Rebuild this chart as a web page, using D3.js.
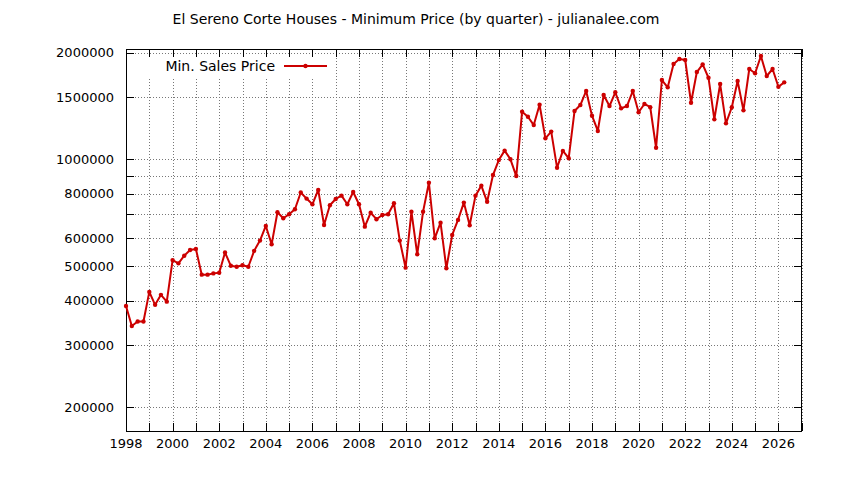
<!DOCTYPE html>
<html>
<head>
<meta charset="utf-8">
<script src="https://cdn.jsdelivr.net/npm/d3@7"></script>
<style>
  body { margin: 0; background: #fff; }
  svg text { font-family: "DejaVu Sans", Verdana, sans-serif; font-size: 13px; fill: #000; }
</style>
</head>
<body>
<div id="chart"></div>
<script>
// Minimum sale price per quarter, one row per year (Q1..Q4)
const years = [1998, 1999, 2000, 2001, 2002, 2003, 2004, 2005, 2006, 2007,
               2008, 2009, 2010, 2011, 2012, 2013, 2014, 2015, 2016, 2017,
               2018, 2019, 2020, 2021, 2022, 2023, 2024, 2025, 2026];
const prices = [
    [386000, 339000, 349000, 349000],
    [423000, 389000, 415000, 397000],
    [520000, 509000, 535000, 555000],
    [559000, 473000, 473000, 477000],
    [479000, 546000, 501000, 498000],
    [503000, 498000, 552000, 590000],
    [649000, 576000, 709000, 682000],
    [700000, 723000, 806000, 775000],
    [747000, 820000, 653000, 742000],
    [773000, 790000, 747000, 809000],
    [747000, 646000, 707000, 678000],
    [697000, 700000, 752000, 590000],
    [495000, 712000, 540000, 712000],
    [859000, 599000, 663000, 493000],
    [612000, 675000, 755000, 652000],
    [790000, 843000, 759000, 903000],
    [995000, 1058000, 1000000, 897000],
    [1362000, 1318000, 1249000, 1425000],
    [1146000, 1197000, 947000, 1056000],
    [1007000, 1368000, 1422000, 1558000],
    [1327000, 1202000, 1518000, 1413000],
    [1545000, 1392000, 1413000, 1558000],
    [1357000, 1432000, 1402000, 1078000],
    [1673000, 1596000, 1856000, 1917000],
    [1905000, 1444000, 1762000, 1852000],
    [1698000, 1296000, 1630000, 1263000],
    [1402000, 1662000, 1374000, 1797000],
    [1748000, 1955000, 1717000, 1797000],
    [1602000, 1648000]
];

const yTicks = [200000, 300000, 400000, 500000, 600000, 700000, 800000, 900000, 1000000, 1500000, 2000000];
const yLabels = ["200000", "300000", "400000", "500000", "600000", "", "800000", "", "1000000", "1500000", "2000000"];
const xTicks = d3.range(1998, 2028);
const xLabels = [1998, 2000, 2002, 2004, 2006, 2008, 2010, 2012, 2014, 2016, 2018, 2020, 2022, 2024, 2026];

const title = "El Sereno Corte Houses - Minimum Price (by quarter) - julianalee.com";
const seriesName = "Min. Sales Price";
const color = "#cc0000";

// flatten into points
const data = [];
years.forEach((yr, i) => {
    prices[i].forEach((v, q) => data.push({ t: yr + q / 4, value: v }));
});

const W = 844, H = 480;
const plotLeft = 126, plotRight = 801.7, plotTop = 49, plotBottom = 431;

const svg = d3.select("#chart").append("svg")
    .attr("width", W)
    .attr("height", H);

const x = d3.scaleLinear().domain([1998, 2027]).range([plotLeft, plotRight]);
const y = d3.scaleLog().domain([171500, 2046000]).range([plotBottom, plotTop]);

// grid
const grid = svg.append("g").attr("stroke", "#777").attr("stroke-width", 1)
    .attr("stroke-dasharray", "1,2").attr("shape-rendering", "crispEdges");

grid.selectAll(".gx")
    .data(xTicks.filter(d => d > 1998))
    .enter().append("line")
    .attr("x1", d => Math.round(x(d)) + 0.5).attr("x2", d => Math.round(x(d)) + 0.5)
    .attr("y1", plotTop).attr("y2", plotBottom);

grid.selectAll(".gy")
    .data(yTicks)
    .enter().append("line")
    .attr("x1", plotLeft).attr("x2", plotRight)
    .attr("y1", d => Math.round(y(d)) + 0.5).attr("y2", d => Math.round(y(d)) + 0.5);

// opaque legend box over the grid
svg.append("rect")
    .attr("x", 140).attr("y", 55)
    .attr("width", 192).attr("height", 22)
    .attr("fill", "#fff");

// tick marks on all four sides
const ticks = svg.append("g").attr("stroke", "#000").attr("stroke-width", 1)
    .attr("shape-rendering", "crispEdges");
const tl = 8;

xTicks.forEach(d => {
    const px = Math.round(x(d)) + 0.5;
    ticks.append("line").attr("x1", px).attr("x2", px).attr("y1", plotBottom).attr("y2", plotBottom - tl);
    ticks.append("line").attr("x1", px).attr("x2", px).attr("y1", plotTop).attr("y2", plotTop + tl);
});
yTicks.forEach(d => {
    const py = Math.round(y(d)) + 0.5;
    ticks.append("line").attr("x1", plotLeft).attr("x2", plotLeft + tl).attr("y1", py).attr("y2", py);
    ticks.append("line").attr("x1", plotRight).attr("x2", plotRight - tl).attr("y1", py).attr("y2", py);
});

// frame
svg.append("rect")
    .attr("x", plotLeft + 0.5).attr("y", plotTop + 0.5)
    .attr("width", plotRight - plotLeft - 1).attr("height", plotBottom - plotTop)
    .attr("fill", "none").attr("stroke", "#000").attr("stroke-width", 1)
    .attr("shape-rendering", "crispEdges");

// tick labels
svg.selectAll(".ylab")
    .data(yTicks.map((v, i) => ({ v, label: yLabels[i] })).filter(d => d.label))
    .enter().append("text")
    .attr("x", plotLeft - 12)
    .attr("y", d => y(d.v))
    .attr("dy", "0.36em")
    .attr("text-anchor", "end")
    .text(d => d.label);

svg.selectAll(".xlab")
    .data(xLabels)
    .enter().append("text")
    .attr("x", d => x(d))
    .attr("y", 448)
    .attr("text-anchor", "middle")
    .text(d => d);

// title
svg.append("text")
    .attr("x", 416)
    .attr("y", 24)
    .attr("text-anchor", "middle")
    .style("font-size", "14px")
    .text(title);

// series
const line = d3.line()
    .x(d => x(d.t))
    .y(d => y(d.value));

svg.append("path")
    .datum(data)
    .attr("fill", "none")
    .attr("stroke", color)
    .attr("stroke-width", 2)
    .attr("stroke-linejoin", "round")
    .attr("d", line);

svg.selectAll(".pt")
    .data(data)
    .enter().append("circle")
    .attr("cx", d => x(d.t))
    .attr("cy", d => y(d.value))
    .attr("r", 2.2)
    .attr("fill", color);

// legend
svg.append("text")
    .attr("x", 275)
    .attr("y", 71)
    .attr("text-anchor", "end")
    .style("font-size", "14px")
    .text(seriesName);
svg.append("line")
    .attr("x1", 284).attr("x2", 327)
    .attr("y1", 66).attr("y2", 66)
    .attr("stroke", color).attr("stroke-width", 2);
svg.append("circle")
    .attr("cx", 305.5).attr("cy", 66).attr("r", 2.2)
    .attr("fill", color);
</script>
</body>
</html>
